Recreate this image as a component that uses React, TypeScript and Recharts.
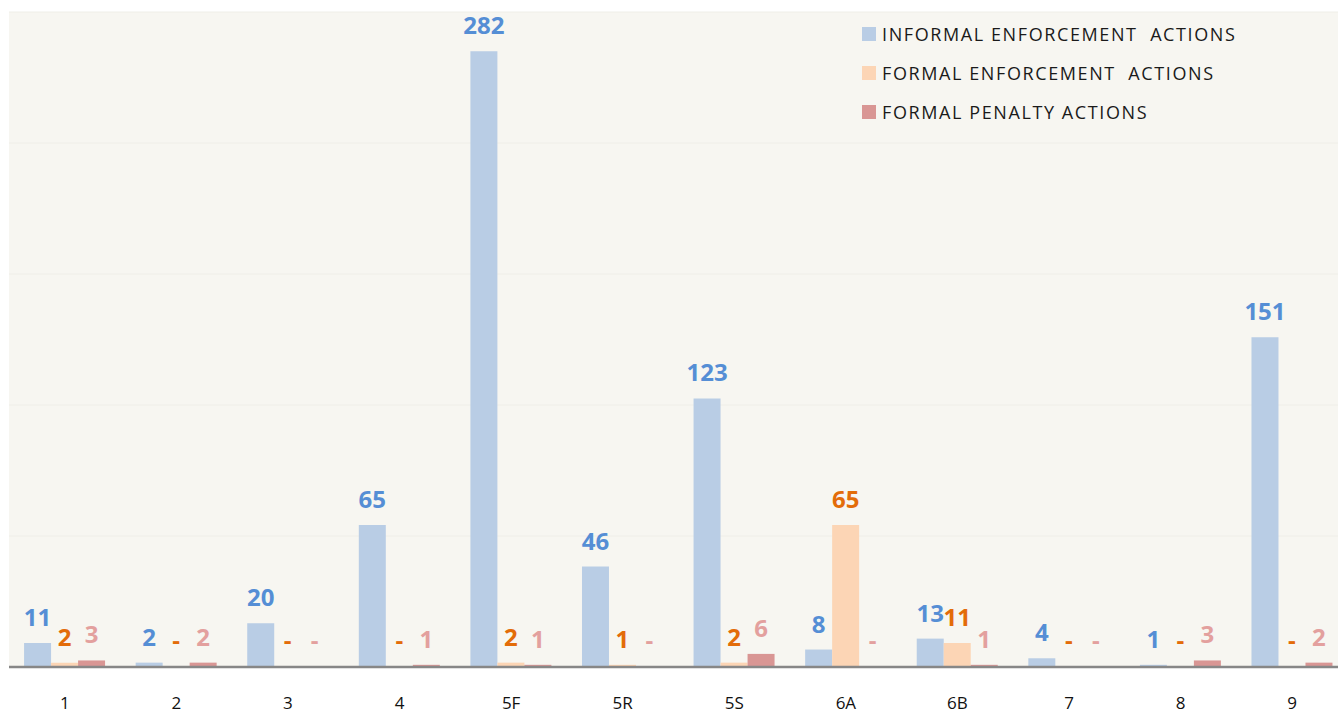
import React from "react";
import {
  BarChart,
  Bar,
  XAxis,
  YAxis,
  CartesianGrid,
  LabelList,
  Rectangle,
} from "recharts";

const regions = ["1", "2", "3", "4", "5F", "5R", "5S", "6A", "6B", "7", "8", "9"];
const informalActions = [11, 2, 20, 65, 282, 46, 123, 8, 13, 4, 1, 151];
const formalActions = [2, 0, 0, 0, 2, 1, 2, 65, 11, 0, 0, 0];
const penaltyActions = [3, 2, 0, 1, 1, 0, 6, 0, 1, 0, 3, 2];
const yTicks = [0, 60, 120, 180, 240, 300];

const seriesInfo = [
  { key: "informal", name: "INFORMAL ENFORCEMENT  ACTIONS", fill: "#b9cde5", label: "#558ed5" },
  { key: "formal", name: "FORMAL ENFORCEMENT  ACTIONS", fill: "#fcd5b5", label: "#e36c09" },
  { key: "penalty", name: "FORMAL PENALTY ACTIONS", fill: "#d99694", label: "#e3a09e" },
];

const data = regions.map((region, i) => ({
  region,
  informal: informalActions[i],
  formal: formalActions[i],
  penalty: penaltyActions[i],
}));

const FONT = "'Open Sans', Lato, sans-serif";

const makeLabel = (color: string) => (props: any) => {
  const { x, y, width, height, value } = props;
  const top = Math.min(Number(y), Number(y) + Number(height));
  const text = Number(value) === 0 ? "-" : String(value);
  return (
    <text
      x={Number(x) + Number(width) / 2}
      y={top - 17}
      fill={color}
      textAnchor="middle"
      fontSize={24}
      fontWeight={700}
      fontFamily={FONT}
    >
      {text}
    </text>
  );
};

// zero values get a 1px placeholder so their "-" label is still placed; draw nothing for them
const barShape = (props: any) => {
  const v = props.value;
  const val = Array.isArray(v) ? v[1] - v[0] : v;
  if (!val) return <g />;
  return <Rectangle {...props} />;
};

const LegendBox = () => (
  <div
    style={{
      position: "absolute",
      left: 862,
      top: 14,
      fontFamily: FONT,
      fontSize: 18,
      letterSpacing: 1.6,
      color: "#1a1a1a",
    }}
  >
    {seriesInfo.map((s) => (
      <div
        key={s.key}
        style={{ display: "flex", alignItems: "center", height: 39, whiteSpace: "pre" }}
      >
        <span
          style={{
            display: "inline-block",
            width: 14,
            height: 14,
            background: s.fill,
            marginRight: 6,
          }}
        />
        {s.name}
      </div>
    ))}
  </div>
);

export default function App() {
  return (
    <div
      style={{
        position: "absolute",
        left: 0,
        top: 0,
        width: 1338,
        height: 713,
        overflow: "hidden",
        background: "#fff",
      }}
    >
      <BarChart
        width={1350}
        height={740}
        data={data}
        margin={{ top: 12, right: 2, left: 9, bottom: 0 }}
        barGap={0}
        barCategoryGap="13.5%"
      >
        <CartesianGrid
          vertical={false}
          fill="#f7f6f1"
          stroke="#efeee8"
          strokeWidth={1}
        />
        <YAxis hide domain={[0, 300]} ticks={yTicks} />
        <XAxis
          dataKey="region"
          height={73}
          tickLine={false}
          tickSize={0}
          tickMargin={30}
          axisLine={{ stroke: "#878787", strokeWidth: 2.5 }}
          tick={{ fill: "#111", fontSize: 17, fontFamily: FONT }}
        />
        {seriesInfo.map((s) => (
          <Bar
            key={s.key}
            dataKey={s.key}
            name={s.name}
            fill={s.fill}
            minPointSize={(v: number) => (v === 0 ? 1 : 0)}
            shape={barShape}
            isAnimationActive={false}
          >
            <LabelList dataKey={s.key} content={makeLabel(s.label)} />
          </Bar>
        ))}
      </BarChart>
      <LegendBox />
    </div>
  );
}
